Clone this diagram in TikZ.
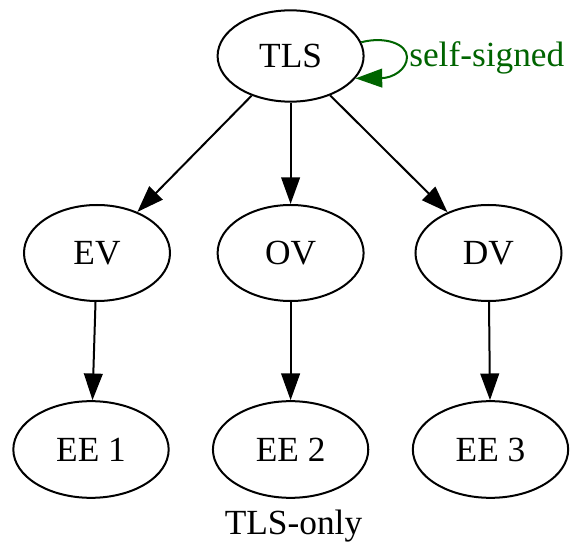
\documentclass[tikz,border=0pt]{standalone}
\usepackage{fontspec}
\setmainfont{Liberation Serif}
\usetikzlibrary{arrows.meta,shapes.geometric}
\definecolor{loopgreen}{RGB}{0,100,0}
\begin{document}
\begin{tikzpicture}[x=0.75pt,y=-0.75pt,
  txt/.style={font=\fontsize{26.5}{30}\selectfont},
  nd/.style={draw,ellipse,line width=1.5pt,inner sep=0pt,txt},
  topnd/.style={nd,minimum width=109.5pt,minimum height=68.5pt},
  midnd/.style={nd,minimum width=109.5pt,minimum height=72pt},
  leafnd/.style={nd,minimum width=116.5pt,minimum height=72.5pt},
  edge/.style={draw,line width=1.5pt,-{Triangle[length=20pt,width=14pt]}},
]
\useasboundingbox (0,0) rectangle (572,545);
\node[topnd] (TLS) at (290.6,56) {TLS};
\node[midnd] (EV) at (97,253) {EV};
\node[midnd] (OV) at (290.6,253) {OV};
\node[midnd] (DV) at (488.5,253) {DV};
\node[leafnd] (EE1) at (91,449.5) {EE 1};
\node[leafnd] (EE2) at (290.6,449.5) {EE 2};
\node[leafnd] (EE3) at (490.5,449.5) {EE 3};
\node[txt,anchor=base,inner sep=0pt] (lbl) at (293.5,535) {TLS-only};
\draw[edge] (TLS) -- (EV);
\draw[edge] (TLS) -- (OV);
\draw[edge] (TLS) -- (DV);
\draw[edge] (EV) -- (EE1);
\draw[edge] (OV) -- (EE2);
\draw[edge] (DV) -- (EE3);
\draw[edge,loopgreen] (TLS.11) .. controls (385,36) and (407,44) .. (407,57)
  .. controls (407,70) and (392,78) .. (TLS.-19);
\node[txt,anchor=base west,inner sep=0pt,text=loopgreen] (sl) at (409,67) {self-signed};
\end{tikzpicture}
\end{document}
